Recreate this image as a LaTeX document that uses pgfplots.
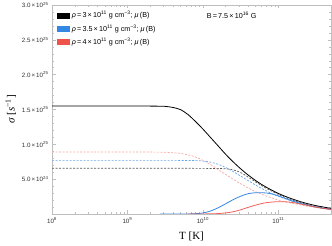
\documentclass[border=0pt]{standalone}
\usepackage{pgfplots}
\pgfplotsset{compat=1.18}
\usepackage{pgfplotstable}
\usepackage{fontspec}
\setmainfont{Liberation Sans}
\newfontfamily\serif{Liberation Serif}
\definecolor{myblue}{RGB}{52,136,228}
\definecolor{myred}{RGB}{238,82,72}
\definecolor{framegray}{RGB}{190,190,190}

\pgfplotstableread{
T bs bd ud rd
1e8 15.5 6.56 7.7 8.9
1e9 15.5 6.56 7.7 8.9
2.512e9 15.48 6.56 7.7 8.88
3.162e9 15.45 6.56 7.7 8.86
3.981e9 15.3 6.56 7.7 8.8
5.012e9 15.0 6.56 7.69 8.7
6.310e9 14.3 6.56 7.69 8.5
7.943e9 13.3 6.55 7.67 8.2
1e10 12.2 6.55 7.6 7.7
1.259e10 11.0 6.54 7.45 7.1
1.585e10 9.8 6.52 7.15 6.4
1.995e10 8.6 6.5 6.7 5.7
2.512e10 7.5 6.35 6.1 5.0
3.162e10 6.5 5.95 5.45 4.35
3.981e10 5.6 5.3 4.8 3.75
5.012e10 4.8 4.6 4.15 3.2
6.310e10 4.1 3.95 3.55 2.75
7.943e10 3.5 3.35 3.0 2.35
1e11 2.95 2.8 2.55 2.0
1.259e11 2.5 2.35 2.15 1.72
1.585e11 2.1 1.95 1.8 1.5
1.995e11 1.75 1.6 1.5 1.3
2.512e11 1.45 1.32 1.23 1.1
3.162e11 1.2 1.08 1.0 0.92
3.981e11 1.0 0.88 0.82 0.76
5.012e11 0.8 0.7 0.66 0.63
}\dashedtab

\pgfplotstableread{
T y
2.69e9 0.0
6.31e9 0.01
7.943e9 0.04
1e10 0.15
1.259e10 0.42
1.585e10 0.88
1.995e10 1.45
2.512e10 2.05
3.162e10 2.55
3.981e10 2.92
5.012e10 3.05
6.310e10 3.05
7.943e10 2.92
1e11 2.6
1.259e11 2.2
1.585e11 1.82
1.995e11 1.5
2.512e11 1.23
3.162e11 1.0
3.981e11 0.82
5.012e11 0.66
}\bluesolid

\pgfplotstableread{
T y
6.31e9 0.0
1.259e10 0.02
1.585e10 0.06
1.995e10 0.15
2.512e10 0.32
3.162e10 0.6
3.981e10 0.95
5.012e10 1.28
6.310e10 1.55
7.943e10 1.7
1e11 1.77
1.259e11 1.75
1.585e11 1.63
1.995e11 1.42
2.512e11 1.2
3.162e11 0.98
3.981e11 0.8
5.012e11 0.65
}\redsolid

\begin{document}
\begin{tikzpicture}
\begin{axis}[
  scale only axis, width=279pt, height=209pt,
  xmode=log, xmin=1e8, xmax=5e11, ymin=0, ymax=30,
  axis line style={framegray, line width=0.5pt},
  tick style={framegray, line width=0.4pt},
  tick align=inside,
  major tick length=3.5pt, minor tick length=2pt,
  ytick={0,5,10,15,20,25,30},
  yticklabels={,5.0\,×\,10\textsuperscript{24},1.0\,×\,10\textsuperscript{25},1.5\,×\,10\textsuperscript{25},2.0\,×\,10\textsuperscript{25},2.5\,×\,10\textsuperscript{25},3.0\,×\,10\textsuperscript{25}},
  minor y tick num=4,
  xtick={1e8,1e9,1e10,1e11},
  xticklabels={10\textsuperscript{8},10\textsuperscript{9},10\textsuperscript{10},10\textsuperscript{11}},
  ticklabel style={font=\fontsize{6.2}{7}\selectfont, text=black!80},
  scaled y ticks=false,
  xlabel={\serif T [K]},
  ylabel={\serif\itshape σ\upshape\ [\itshape s\upshape\textsuperscript{−1}]},
  label style={font=\fontsize{11}{12}\selectfont},
  xlabel shift=2pt,
  ylabel shift=-1pt,
  legend style={at={(rel axis cs:0.015,0.985)}, anchor=north west, draw=none, fill=none,
     font=\fontsize{7.2}{8}\selectfont, row sep=1.2pt, cells={anchor=west},
     inner sep=1pt},
  legend image code/.code={\fill[#1] (0pt,-2.5pt) rectangle (12pt,2.5pt);},
]
\addlegendimage{black}
\addlegendentry{{\itshape ρ}\,=\,3\,×\,10\textsuperscript{11} g cm\textsuperscript{−3}; {\itshape μ}\,(B)}
\addlegendimage{myblue}
\addlegendentry{{\itshape ρ}\,=\,3.5\,×\,10\textsuperscript{11} g cm\textsuperscript{−3}; {\itshape μ}\,(B)}
\addlegendimage{myred}
\addlegendentry{{\itshape ρ}\,=\,4\,×\,10\textsuperscript{11} g cm\textsuperscript{−3}; {\itshape μ}\,(B)}

\addplot[forget plot, smooth, black!65, line width=0.7pt, dash pattern=on 2pt off 1.5pt] table[x=T, y=bd] {\dashedtab};
\addplot[forget plot, smooth, myblue!75, line width=0.7pt, dash pattern=on 2pt off 1.5pt] table[x=T, y=ud] {\dashedtab};
\addplot[forget plot, smooth, myred!50, line width=0.7pt, dash pattern=on 2pt off 1.5pt] table[x=T, y=rd] {\dashedtab};
\addplot[forget plot, smooth, black, line width=0.8pt] table[x=T, y=bs] {\dashedtab};
\addplot[forget plot, smooth, myblue, line width=0.8pt] table[x=T, y=y] {\bluesolid};
\addplot[forget plot, smooth, myred, line width=0.8pt, opacity=0.9] table[x=T, y=y] {\redsolid};

\node[anchor=west, font=\fontsize{7.2}{8}\selectfont] at (rel axis cs:0.542,0.95) {B\,=\,7.5\,×\,10\textsuperscript{16} G};
\end{axis}
\pgfresetboundingbox
\path[use as bounding box] (current axis.south west) ++(-52pt,-32pt) rectangle ([shift={(1pt,5pt)}]current axis.north east);
\end{tikzpicture}
\end{document}
